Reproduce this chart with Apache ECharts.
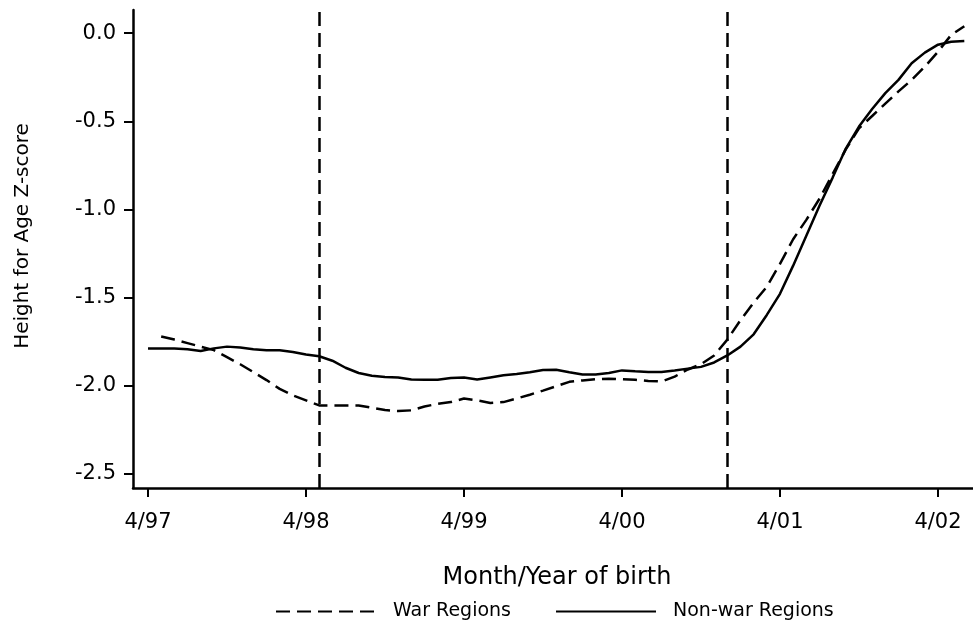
<!DOCTYPE html>
<html>
<head>
<meta charset="utf-8">
<script src="https://cdn.jsdelivr.net/npm/echarts@6/dist/echarts.min.js"></script>
<style>
html,body{margin:0;padding:0;background:#fff;}
#chart{width:973px;height:626px;}
</style>
</head>
<body>
<div id="chart"></div>
<script>
// months since April 1997
const monthsNonWar = [0,1,2,3,4,5,6,7,8,9,10,11,12,13,14,15,16,17,18,19,20,21,22,23,24,25,26,27,28,29,30,31,32,33,34,35,36,37,38,39,40,41,42,43,44,45,46,47,48,49,50,51,52,53,54,55,56,57,58,59,60,61,62];
const nonWarValues = [-1.79,-1.79,-1.79,-1.795,-1.805,-1.79,-1.78,-1.785,-1.795,-1.80,-1.80,-1.81,-1.825,-1.835,-1.86,-1.90,-1.93,-1.945,-1.953,-1.955,-1.967,-1.968,-1.968,-1.958,-1.955,-1.967,-1.955,-1.943,-1.935,-1.925,-1.913,-1.911,-1.925,-1.938,-1.938,-1.93,-1.915,-1.92,-1.924,-1.924,-1.915,-1.905,-1.895,-1.87,-1.83,-1.78,-1.71,-1.60,-1.48,-1.32,-1.15,-0.98,-0.82,-0.655,-0.53,-0.43,-0.34,-0.265,-0.17,-0.11,-0.065,-0.048,-0.044];
const monthsWar = [1,2,3,4,5,6,7,8,9,10,11,12,13,14,15,16,17,18,19,20,21,22,23,24,25,26,27,28,29,30,31,32,33,34,35,36,37,38,39,40,41,42,43,44,45,46,47,48,49,50,51,52,53,54,55,56,57,58,59,60,61,62];
const warValues = [-1.722,-1.74,-1.76,-1.78,-1.80,-1.84,-1.88,-1.925,-1.97,-2.02,-2.057,-2.085,-2.114,-2.114,-2.114,-2.114,-2.127,-2.14,-2.146,-2.142,-2.12,-2.105,-2.095,-2.075,-2.085,-2.10,-2.095,-2.075,-2.053,-2.03,-2.005,-1.98,-1.972,-1.965,-1.962,-1.965,-1.968,-1.975,-1.978,-1.95,-1.91,-1.88,-1.83,-1.74,-1.63,-1.53,-1.44,-1.31,-1.17,-1.06,-0.94,-0.80,-0.66,-0.54,-0.47,-0.40,-0.33,-0.265,-0.19,-0.105,-0.01,0.04];
const xTickMonths = [0,12,24,36,48,60];
const xTickLabels = ['4/97','4/98','4/99','4/00','4/01','4/02'];
const yTicks = [-2.5,-2.0,-1.5,-1.0,-0.5,0.0];
const eventMonths = [13,44];

const font = 'DejaVu Sans';
const chart = echarts.init(document.getElementById('chart'));
chart.setOption({
  backgroundColor: '#fff',
  animation: false,
  textStyle: {fontFamily: font, color: '#000'},
  grid: {left: 133, right: 0, top: 10, bottom: 138},
  legend: {
    top: 597,
    left: 270,
    itemWidth: 100,
    itemHeight: 14,
    itemGap: 44,
    itemStyle: {opacity: 0},
    textStyle: {fontFamily: font, fontSize: 19, color: '#000', padding: [0,0,0,12]},
    data: ['War Regions','Non-war Regions']
  },
  xAxis: {
    type: 'value',
    min: -1.14,
    max: 62.66,
    name: 'Month/Year of birth',
    nameLocation: 'middle',
    nameGap: 78,
    nameTextStyle: {fontFamily: font, fontSize: 24, color: '#000', padding: [0,0,0,8]},
    splitLine: {show: false},
    axisLine: {show: true, onZero: false, lineStyle: {color: '#000', width: 2.5}},
    axisTick: {show: true, length: 9, lineStyle: {color: '#000', width: 2}, customValues: xTickMonths},
    axisLabel: {
      fontFamily: font, fontSize: 21, color: '#000', margin: 24,
      customValues: xTickMonths,
      formatter: function (v) { const i = xTickMonths.indexOf(Math.round(v)); return i >= 0 ? xTickLabels[i] : ''; }
    }
  },
  yAxis: {
    type: 'value',
    min: -2.583,
    max: 0.132,
    name: 'Height for Age Z-score',
    nameLocation: 'middle',
    nameGap: 100,
    nameTextStyle: {fontFamily: font, fontSize: 20, color: '#000', padding: [0,0,0,26]},
    splitLine: {show: false},
    axisLine: {show: true, onZero: false, lineStyle: {color: '#000', width: 2.5}},
    axisTick: {show: true, length: 9, lineStyle: {color: '#000', width: 2}, customValues: yTicks},
    axisLabel: {
      fontFamily: font, fontSize: 21, color: '#000', margin: 17,
      customValues: yTicks,
      formatter: function (v) { return v.toFixed(1); }
    }
  },
  series: [
    {
      name: 'War Regions',
      type: 'line',
      data: monthsWar.map((m, i) => [m, warValues[i]]),
      symbol: 'none',
      lineStyle: {color: '#000', width: 2.5, type: [14, 7]},
      itemStyle: {color: '#000'},
      markLine: {
        silent: true,
        symbol: 'none',
        label: {show: false},
        lineStyle: {color: '#000', width: 2.5, type: [14, 7]},
        data: eventMonths.map(m => ({xAxis: m}))
      }
    },
    {
      name: 'Non-war Regions',
      type: 'line',
      data: monthsNonWar.map((m, i) => [m, nonWarValues[i]]),
      symbol: 'none',
      lineStyle: {color: '#000', width: 2.5, type: 'solid'},
      itemStyle: {color: '#000'}
    }
  ]
});
</script>
</body>
</html>
